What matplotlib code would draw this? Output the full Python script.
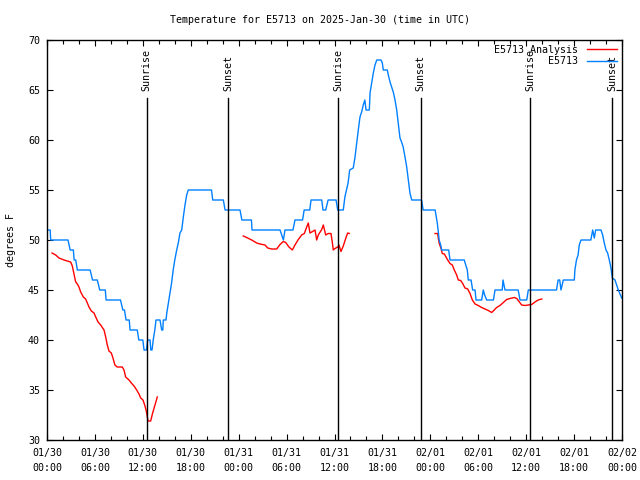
import numpy as np
import pandas as pd
import matplotlib
matplotlib.use("Agg")
import matplotlib.pyplot as plt
import matplotlib.dates as mdates

plt.rcParams['font.family'] = ['DejaVu Sans Mono']

START = pd.Timestamp("2025-01-30 00:00")

# E5713 observations: hours after 01/30 00:00 UTC, degrees F
obs_hours = [0.1, 0.4, 0.46, 2.63, 2.9, 3.3, 3.4, 3.6, 3.8, 5.4, 5.7, 6.3, 6.6, 7.3, 7.4, 9.2,
             9.5, 9.7, 9.9, 10.3, 10.4, 11.3, 11.5, 12.0, 12.15, 12.45, 12.6, 12.9, 13.0, 13.15,
             13.3, 13.5, 13.65, 14.15, 14.36, 14.5, 14.56, 14.9, 15.0, 15.2, 15.4, 15.6, 15.8,
             16.0, 16.24, 16.44, 16.65, 16.87, 17.07, 17.28, 17.49, 17.69, 20.6, 20.75, 22.08,
             22.3, 24.17, 24.4, 25.6, 25.67, 29.18, 29.6, 29.8, 30.8, 31.05, 32.0, 32.2, 32.9,
             33.06, 34.4, 34.56, 34.9, 35.2, 36.2, 36.4, 37.1, 37.3, 37.5, 37.7, 37.9, 38.35,
             38.57, 38.78, 38.98, 39.19, 39.4, 39.6, 39.8, 39.95, 40.36, 40.45, 40.66, 40.86,
             41.07, 41.29, 41.82, 41.99, 42.11, 42.61, 42.74, 42.95, 43.16, 43.36, 43.58, 43.79,
             43.99, 44.2, 44.4, 44.6, 44.83, 45.04, 45.24, 45.45, 45.67, 46.9, 47.1, 48.6, 48.7,
             48.87, 49.0, 49.1, 49.3, 49.42, 50.3, 50.46, 52.25, 52.43, 52.63, 52.75, 53.1, 53.3,
             53.6, 53.72, 54.43, 54.63, 54.8, 55.06, 55.9, 56.1, 57.0, 57.1, 57.35, 59.0, 59.23,
             60.07, 60.27, 63.8, 64.0, 64.2, 64.36, 64.65, 66.03, 66.1, 66.3, 66.5, 66.65, 66.87,
             68.1, 68.33, 68.53, 68.7, 69.37, 69.58, 69.78, 70.0, 70.2, 70.41, 70.62, 70.79,
             71.12, 71.54, 71.96]
obs_temps = [51, 51, 50, 50, 49, 49, 48, 48, 47, 47, 46, 46, 45, 45, 44, 44,
             43, 43, 42, 42, 41, 41, 40, 40, 39, 39, 40, 40, 39, 39,
             40, 41, 42, 42, 41, 41, 42, 42, 42.7, 43.7, 44.7, 45.7, 47,
             48, 49, 49.7, 50.7, 51, 52.3, 53.5, 54.5, 55, 55, 54, 54,
             53, 53, 52, 52, 51, 51, 50, 51, 51, 52, 52, 53, 53,
             54, 54, 53, 53, 54, 54, 53, 53, 54.3, 55, 55.7, 57, 57.2,
             58.3, 59.7, 61, 62.3, 62.8, 63.5, 64, 63, 63, 64.7, 65.7, 66.7,
             67.5, 68, 68, 67.7, 67, 67, 66.5, 65.8, 65.3, 64.8, 64, 63,
             61.6, 60.2, 59.8, 59.3, 58.3, 57.3, 56, 54.7, 54, 54, 53, 53, 52.5,
             51.7, 50.8, 50, 49.5, 49, 49, 48, 48, 47.5, 47, 46, 46, 45,
             45, 44, 44, 45, 44.5, 44, 44, 45, 45, 46, 45, 45, 44,
             44, 45, 45, 46, 46, 45, 46, 46, 47, 48, 48.5, 49.5, 50,
             50, 51, 50.2, 51, 51, 50.5, 49.7, 49, 48.7, 48, 47.2, 46.2,
             46, 45, 44.2]

# E5713 Analysis, three separate runs
ana1_hours = [0.63, 1.09, 1.5, 2.13, 2.55, 2.96, 3.17, 3.38, 3.59, 3.8, 4.0, 4.22, 4.55, 4.84,
              5.05, 5.26, 5.55, 5.89, 6.1, 6.39, 6.72, 7.14, 7.35, 7.55, 7.76, 8.05, 8.26, 8.5,
              8.8, 9.43, 9.64, 9.85, 10.27, 10.56, 10.9, 11.23, 11.52, 11.73, 12.02, 12.27,
              12.43, 12.65, 12.98, 13.23, 13.52, 13.81]
ana1_temps = [48.7, 48.5, 48.2, 48.0, 47.9, 47.8, 47.4, 46.6, 45.8, 45.6, 45.3, 44.8, 44.3, 44.1,
              43.7, 43.3, 42.9, 42.7, 42.3, 41.8, 41.5, 41.0, 40.3, 39.5, 38.9, 38.7, 38.2, 37.5,
              37.3, 37.3, 37.0, 36.3, 36.0, 35.7, 35.4, 35.0, 34.6, 34.2, 34.0, 33.4,
              32.9, 31.9, 31.9, 32.7, 33.5, 34.3]
ana2_hours = [24.58, 25.0, 25.63, 26.26, 26.67, 27.3, 27.63, 28.13, 28.76, 29.18, 29.59, 29.89,
              30.3, 30.72, 31.05, 31.47, 31.89, 32.22, 32.52, 32.72, 32.93, 33.15, 33.56, 33.77,
              33.97, 34.4, 34.6, 34.9, 35.22, 35.56, 35.72, 35.85, 36.06, 36.4, 36.56, 36.81,
              37.1, 37.4, 37.65, 37.85]
ana2_temps = [50.4, 50.25, 50.0, 49.7, 49.6, 49.5, 49.2, 49.1, 49.1, 49.55, 49.85, 49.75,
              49.3, 49.0, 49.5, 50.05, 50.5, 50.65, 51.3, 51.7, 50.7, 50.8, 51.0, 50.0,
              50.5, 51.05, 51.5, 50.5, 50.65, 50.65, 49.8, 49.0, 49.15, 49.3, 49.5, 48.85,
              49.4, 50.15, 50.7, 50.65]
ana3_hours = [48.59, 48.92, 49.0, 49.12, 49.34, 49.5, 49.75, 49.96, 50.18, 50.46, 50.75, 51.0,
              51.3, 51.5, 51.8, 52.05, 52.34, 52.68, 52.97, 53.26, 53.6, 54.0, 54.43, 54.85,
              55.26, 55.68, 56.0, 56.3, 56.72, 57.14, 57.56, 57.98, 58.52, 58.82, 59.1, 59.44,
              59.86, 60.27, 60.7, 61.1, 61.5, 61.95]
ana3_temps = [50.65, 50.65, 50.15, 49.65, 49.15, 48.65, 48.6, 48.3, 48.0, 47.65, 47.5, 47.0,
              46.5, 46.0, 45.95, 45.65, 45.2, 45.1, 44.65, 44.0, 43.6, 43.45, 43.25, 43.1,
              42.95, 42.75, 43.0, 43.25, 43.45, 43.75, 44.05, 44.15, 44.25, 44.15, 43.85, 43.5,
              43.45, 43.5, 43.55, 43.8, 44.0, 44.1]

sun_hours = [12.49, 22.7, 36.48, 46.8, 60.48, 70.79]
sun_labels = ["Sunrise", "Sunset", "Sunrise", "Sunset", "Sunrise", "Sunset"]


def to_time(hours):
    return START + pd.to_timedelta(np.array(hours), unit="h")


FS = 7.2
fig = plt.figure(figsize=(6.4, 4.8), dpi=100)
ax = fig.add_axes([47 / 640, 40 / 480, 575 / 640, 400 / 480])

ax.plot(to_time(ana1_hours), ana1_temps, color="#ff0000", lw=1.0, label="E5713 Analysis")
ax.plot(to_time(ana2_hours), ana2_temps, color="#ff0000", lw=1.0)
ax.plot(to_time(ana3_hours), ana3_temps, color="#ff0000", lw=1.0)
ax.plot(to_time(obs_hours), obs_temps, color="#0080ff", lw=1.0, label="E5713")

for h, lab in zip(sun_hours, sun_labels):
    t = to_time([h])[0]
    ax.plot([t, t], [30, 64.2], color="black", lw=1.0)
    ax.text(t, 64.9, lab, rotation=90, ha="center", va="bottom", fontsize=FS)

ax.set_xlim(START, START + pd.Timedelta(hours=72))
ax.set_ylim(30, 70)

ticks = to_time(np.arange(0, 73, 6))
ax.set_xticks(ticks, [t.strftime("%m/%d\n%H:%M") for t in ticks])
ax.xaxis.set_minor_locator(mdates.HourLocator(byhour=range(0, 24, 2)))
ax.set_yticks(np.arange(30, 71, 5))
ax.tick_params(axis="both", which="both", direction="in", top=True, right=True,
               labelsize=FS, width=0.8)
ax.tick_params(axis="both", which="major", length=4.5)
ax.tick_params(axis="x", which="major", pad=6)
ax.tick_params(axis="y", which="major", pad=5)
ax.tick_params(axis="x", which="minor", length=3)
for lbl in ax.get_xticklabels():
    lbl.set_linespacing(1.6)
for sp in ax.spines.values():
    sp.set_linewidth(1.0)

ax.set_ylabel("degrees F", fontsize=FS, labelpad=9)
fig.text(0.5, 1 - 20 / 480, "Temperature for E5713 on 2025-Jan-30 (time in UTC)",
         ha="center", va="center", fontsize=FS)

ax.legend(loc="upper right", frameon=False, markerfirst=False, fontsize=FS,
          handlelength=3.0, handletextpad=0.9, labelspacing=0.15, borderaxespad=0.1)

fig.savefig("out.png", dpi=100)
